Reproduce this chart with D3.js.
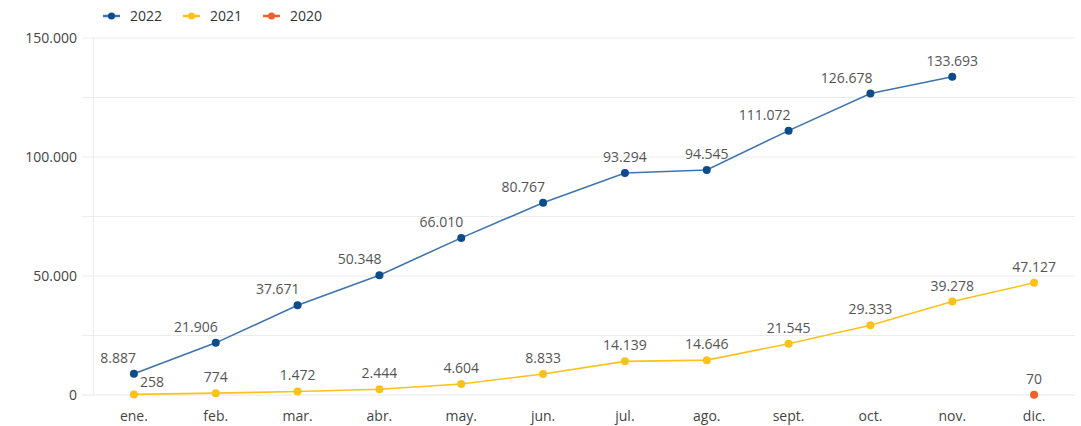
<!DOCTYPE html>
<html>
<head>
<meta charset="utf-8">
<script src="https://cdn.jsdelivr.net/npm/d3@7"></script>
<style>
  body { margin: 0; background: #fff; }
  text { font-family: "Open Sans", "Noto Sans", sans-serif; }
</style>
</head>
<body>
<div id="viz"></div>
<script>
// --- Data ---
const months = ["ene.", "feb.", "mar.", "abr.", "may.", "jun.", "jul.", "ago.", "sept.", "oct.", "nov.", "dic."];
const values2022 = [8887, 21906, 37671, 50348, 66010, 80767, 93294, 94545, 111072, 126678, 133693, null];
const values2021 = [258, 774, 1472, 2444, 4604, 8833, 14139, 14646, 21545, 29333, 39278, 47127];
const values2020 = [null, null, null, null, null, null, null, null, null, null, null, 70];
const yTicks = [0, 25000, 50000, 75000, 100000, 125000, 150000];
const yTickLabels = ["0", "", "50.000", "", "100.000", "", "150.000"];

// label placement: l = above-left, c = above, r = right
const place2022 = ["l", "l", "l", "l", "l", "l", "c", "c", "l", "l", "c", "c"];
const place2021 = ["r", "c", "c", "c", "c", "c", "c", "c", "c", "c", "c", "c"];
const place2020 = ["c", "c", "c", "c", "c", "c", "c", "c", "c", "c", "c", "c"];

const series = [
  { name: "2022", values: values2022, place: place2022, line: "#3f75ad", dot: "#0d4c8b" },
  { name: "2021", values: values2021, place: place2021, line: "#fcc21b", dot: "#fcc21b" },
  { name: "2020", values: values2020, place: place2020, line: "#f0602b", dot: "#f0602b" }
];

const width = 1081, height = 426;
const fmt = d3.formatLocale({ decimal: ",", thousands: ".", grouping: [3] }).format(",d");

const svg = d3.select("#viz").append("svg")
  .attr("width", width).attr("height", height);

const x = d3.scalePoint().domain(months).range([93, 1075]).padding(0.5);
const y = d3.scaleLinear().domain([0, 150000]).range([395, 38]);

// gridlines
svg.append("g")
  .selectAll("line")
  .data(yTicks)
  .join("line")
  .attr("x1", 82).attr("x2", 1075)
  .attr("y1", d => y(d)).attr("y2", d => y(d))
  .attr("stroke", d => d === 0 ? "#e6e6e6" : "#ececec")
  .attr("stroke-width", 1);

svg.append("line")
  .attr("x1", 93.5).attr("x2", 93.5)
  .attr("y1", y(150000)).attr("y2", y(0))
  .attr("stroke", "#ececec");

// y axis labels
svg.append("g")
  .selectAll("text")
  .data(yTicks.filter((d, i) => yTickLabels[i]))
  .join("text")
  .attr("x", 77).attr("y", d => y(d))
  .attr("dy", "0.35em")
  .attr("text-anchor", "end")
  .attr("font-size", 14)
  .attr("fill", "#444")
  .text(d => yTickLabels[yTicks.indexOf(d)]);

// x axis labels
svg.append("g")
  .selectAll("text")
  .data(months)
  .join("text")
  .attr("x", d => x(d)).attr("y", 421)
  .attr("text-anchor", "middle")
  .attr("font-size", 14)
  .attr("fill", "#444")
  .text(d => d);

const line = d3.line()
  .defined(d => d.v != null)
  .x(d => x(d.m))
  .y(d => y(d.v));

// series, drawn back to front
for (const s of series.slice().reverse()) {
  const pts = s.values.map((v, i) => ({ m: months[i], v, p: s.place[i] }));
  const g = svg.append("g");

  g.append("path")
    .datum(pts)
    .attr("fill", "none")
    .attr("stroke", s.line)
    .attr("stroke-width", 1.6)
    .attr("d", line);

  const valid = pts.filter(d => d.v != null);

  g.selectAll("circle")
    .data(valid)
    .join("circle")
    .attr("cx", d => x(d.m))
    .attr("cy", d => y(d.v))
    .attr("r", 4)
    .attr("fill", s.dot);

  g.selectAll("text")
    .data(valid)
    .join("text")
    .attr("x", d => x(d.m) + (d.p === "l" ? 2 : d.p === "r" ? 6 : 0))
    .attr("y", d => y(d.v) + (d.p === "r" ? -7 : -11))
    .attr("text-anchor", d => d.p === "l" ? "end" : d.p === "r" ? "start" : "middle")
    .attr("font-size", 14)
    .attr("fill", "#555")
    .text(d => fmt(d.v));
}

// legend
const legend = svg.append("g")
  .selectAll("g")
  .data(series)
  .join("g")
  .attr("transform", (d, i) => `translate(${103 + i * 80},16)`);

legend.append("line")
  .attr("x1", 0).attr("x2", 17)
  .attr("stroke", d => d.line).attr("stroke-width", 2.5);
legend.append("circle")
  .attr("cx", 8.5).attr("r", 3.5)
  .attr("fill", d => d.dot);
legend.append("text")
  .attr("x", 27).attr("dy", "0.35em")
  .attr("font-size", 14)
  .attr("fill", "#333")
  .text(d => d.name);
</script>
</body>
</html>
